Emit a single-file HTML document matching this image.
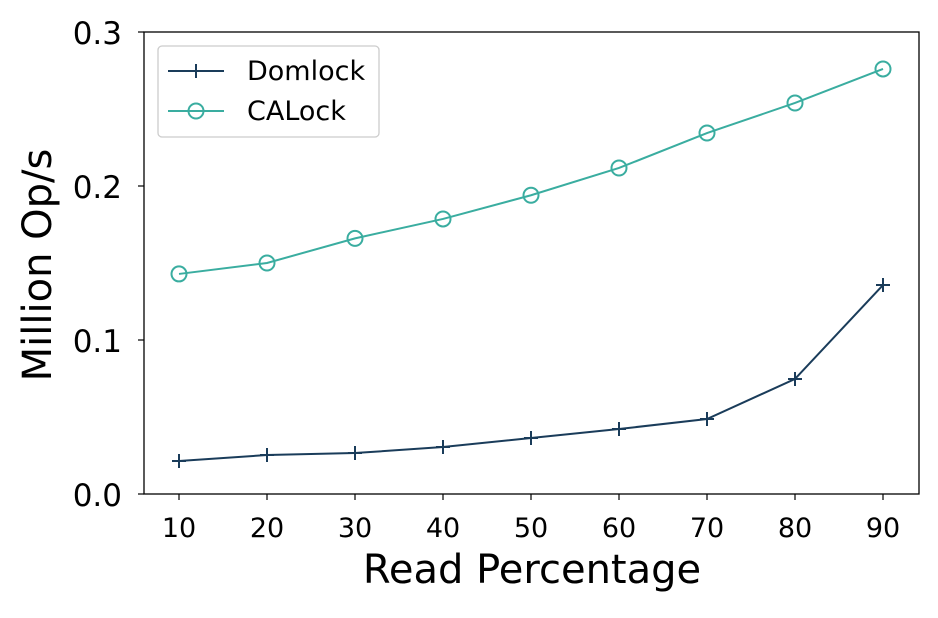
<!DOCTYPE html>
<html><head><meta charset="utf-8"><style>
body{margin:0;background:#fff;}
svg text{font-family:"DejaVu Sans","Liberation Sans",sans-serif;fill:#000;}
</style></head><body>
<svg id="chart" width="938" height="613" xmlns="http://www.w3.org/2000/svg"></svg>
<script>
const categories=[10,20,30,40,50,60,70,80,90];
const domlock=[0.0214,0.0253,0.0266,0.0305,0.0364,0.0422,0.0487,0.0747,0.1357];
const calock=[0.1429,0.150,0.166,0.1786,0.194,0.2117,0.2344,0.2539,0.276];
const yTicks=["0.0","0.1","0.2","0.3"];
const xTicks=[10,20,30,40,50,60,70,80,90];
const L=144,R=919,T=32,B=494;
const xs=v=>179+(v-10)*(883-179)/80;
const ys=v=>B-v*(B-T)/0.3;
const svg=document.getElementById('chart');
const NS='http://www.w3.org/2000/svg';
function mk(tag,attrs,parent){const e=document.createElementNS(NS,tag);for(const k in attrs)e.setAttribute(k,attrs[k]);(parent||svg).appendChild(e);return e;}
let e;
e=mk('rect',{x:L,y:T,width:R-L,height:B-T,fill:'none',stroke:'#000','stroke-width':1.3});


yTicks.forEach(t=>{const y=ys(parseFloat(t));
 mk('line',{x1:L-6,x2:L,y1:y,y2:y,stroke:'#000','stroke-width':1.2});
 e=mk('text',{x:L-22,y:y+12,'text-anchor':'end','font-size':31});e.textContent=t;
 
 
});
xTicks.forEach(t=>{const x=xs(t);
 mk('line',{x1:x,x2:x,y1:B,y2:B+6,stroke:'#000','stroke-width':1.2});
 e=mk('text',{x:x,y:B+43,'text-anchor':'middle','font-size':27});e.textContent=t;
 
 
});
e=mk('text',{x:532,y:583,'text-anchor':'middle','font-size':40});e.textContent='Read Percentage';


e=mk('text',{x:0,y:0,'text-anchor':'middle','font-size':40,transform:'translate(51,265) rotate(-90)'});e.textContent='Million Op/s';


function series(vals,color,marker,name){
 const g=mk('g',{});
 
 
 mk('polyline',{points:vals.map((v,i)=>xs(categories[i])+','+ys(v)).join(' '),fill:'none',stroke:color,'stroke-width':2},g);
 vals.forEach((v,i)=>{const x=xs(categories[i]),y=ys(v);
  if(marker==='plus'){mk('path',{d:`M${x-7},${y}H${x+7}M${x},${y-7}V${y+7}`,stroke:color,'stroke-width':2},g);}
  else mk('circle',{cx:x,cy:y,r:7.5,fill:'none',stroke:color,'stroke-width':2},g);
 });
}
series(domlock,'#1a3c5a','plus','domlock-series');
series(calock,'#3aada0','circle','calock-series');
const lg=mk('g',{});


mk('rect',{x:158,y:46,width:221,height:91,rx:4,fill:'#fff',stroke:'#ccc','stroke-width':1.3},lg);
mk('line',{x1:168,x2:224,y1:71,y2:71,stroke:'#1a3c5a','stroke-width':2},lg);
mk('path',{d:'M189,71H203M196,64V78',stroke:'#1a3c5a','stroke-width':2},lg);
e=mk('text',{x:247,y:80,'font-size':27},lg);e.textContent='Domlock';


mk('line',{x1:168,x2:224,y1:111,y2:111,stroke:'#3aada0','stroke-width':2},lg);
mk('circle',{cx:196,cy:111,r:7.5,fill:'none',stroke:'#3aada0','stroke-width':2},lg);
e=mk('text',{x:247,y:120,'font-size':27},lg);e.textContent='CALock';


</script>
</body></html>
